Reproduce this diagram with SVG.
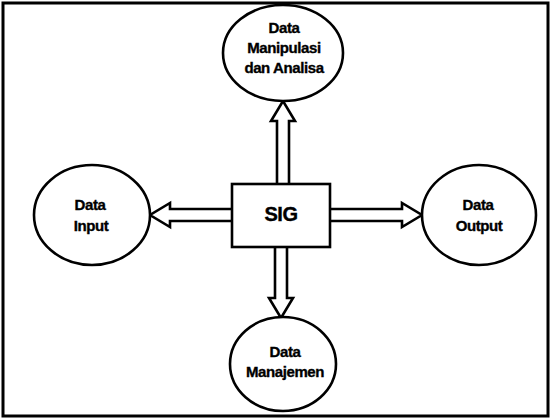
<svg xmlns="http://www.w3.org/2000/svg" width="551" height="419" viewBox="0 0 551 419">
  <style>
    .frame { fill: none; stroke: #000; stroke-width: 3; }
    .node { fill: #fff; stroke: #000; stroke-width: 2.6; }
    .flow { fill: #fff; stroke: #000; stroke-width: 2.6; stroke-linejoin: miter; }
    .label { font-family: "Liberation Sans", Arial, sans-serif; font-weight: bold; font-size: 15px; letter-spacing: -0.4px; fill: #000; stroke: #000; stroke-width: 0.35; text-anchor: middle; }
    .title { font-family: "Liberation Sans", Arial, sans-serif; font-weight: bold; font-size: 20px; letter-spacing: -0.5px; fill: #000; stroke: #000; stroke-width: 0.4; text-anchor: middle; }
  </style>

  <rect width="551" height="419" fill="#fff"/>
  <rect class="frame" x="3" y="3" width="545" height="413"/>

  <!-- block arrows from the central box to each data node -->
  <g id="connectors">
    <polyline class="flow" points="277,184 277,121 271,121 283,101 295,121 289,121 289,184"/>
    <polyline class="flow" points="232,209 170,209 170,203 150,215 170,227 170,221 232,221"/>
    <polyline class="flow" points="330,209 402,209 402,203 422,215 402,227 402,221 330,221"/>
    <polyline class="flow" points="275,247 275,298 269,298 281,318 293,298 287,298 287,247"/>
  </g>

  <g id="sig">
    <rect class="node" x="232" y="184" width="98" height="63"/>
    <text class="title" x="281" y="221">SIG</text>
  </g>

  <g id="data-manipulasi">
    <ellipse class="node" cx="283" cy="53" rx="60" ry="48"/>
    <text class="label" x="284" y="33">Data</text>
    <text class="label" x="284" y="53">Manipulasi</text>
    <text class="label" x="284" y="73">dan Analisa</text>
  </g>

  <g id="data-input">
    <ellipse class="node" cx="92" cy="215" rx="58" ry="50"/>
    <text class="label" x="90" y="210">Data</text>
    <text class="label" x="91" y="231">Input</text>
  </g>

  <g id="data-output">
    <ellipse class="node" cx="479" cy="215" rx="57" ry="50"/>
    <text class="label" x="478" y="210">Data</text>
    <text class="label" x="479" y="231">Output</text>
  </g>

  <g id="data-manajemen">
    <ellipse class="node" cx="283" cy="364" rx="53" ry="47"/>
    <text class="label" x="285" y="357">Data</text>
    <text class="label" x="285" y="377">Manajemen</text>
  </g>
</svg>
